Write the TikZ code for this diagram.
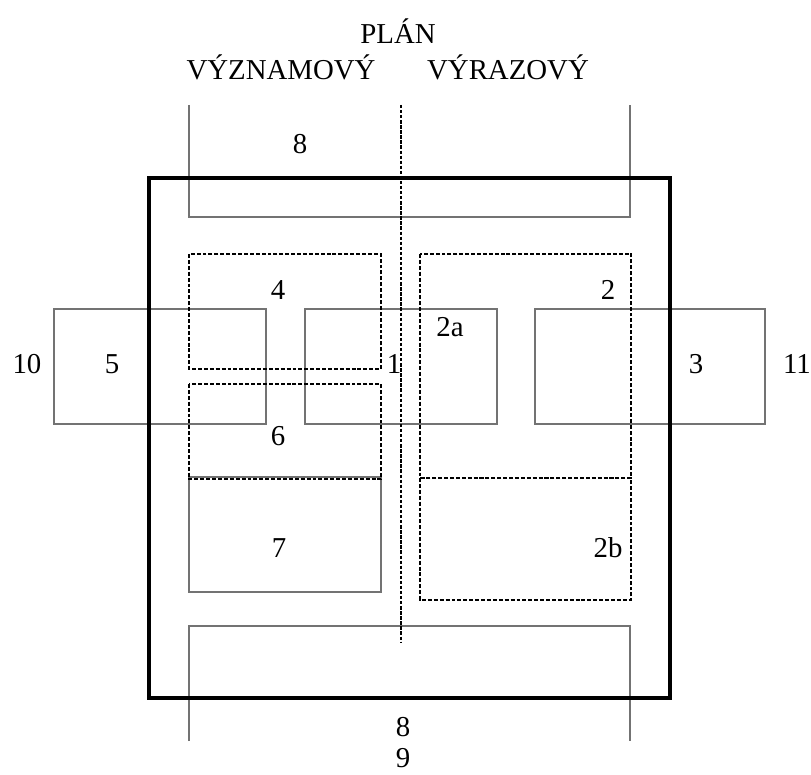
\documentclass[tikz,border=0pt]{standalone}
\usepackage{fontspec}
\setmainfont{Liberation Serif}
\usetikzlibrary{positioning}
\tikzstyle{frame} = [line width=3.2pt, black]
\tikzstyle{thinbox} = [line width=0.75pt, black!55]
\tikzstyle{dashbox} = [line width=1.3pt, dash pattern=on 2.8pt off 1.4pt]
\tikzstyle{midline} = [line width=1.3pt, dash pattern=on 2.4pt off 1.2pt]
\tikzstyle{lbl} = [font=\fontsize{20.5}{24}\selectfont, inner sep=0pt, anchor=base]
\begin{document}
\begin{tikzpicture}[x=0.025cm, y=-0.025cm]
\useasboundingbox (0,0) rectangle (811,775);

% brackets 8 / 9
\draw [thinbox] (189,105) -- (189,217) -- (630,217) -- (630,105);
\draw [thinbox] (189,741) -- (189,626) -- (630,626) -- (630,741);

% side boxes
\draw [thinbox] (54,309) rectangle (266,424);
\draw [thinbox] (305,309) rectangle (497,424);
\draw [thinbox] (535,309) rectangle (765,424);
\draw [thinbox] (189,477) rectangle (381,592);

% dashed areas
\draw [dashbox] (189,254) rectangle (381,369);
\draw [dashbox] (189,384) rectangle (381,479);
\draw [dashbox] (420,254) rectangle (631,478);
\draw [dashbox] (420,478) rectangle (631,600);

% frame and axis
\draw [frame] (149,178) rectangle (670,698);
\draw [midline] (401,105) -- (401,642);

% labels
\node (plan) [lbl] at (398,44) {PLÁN};
\node (vyzn) [lbl] at (281,80) {VÝZNAMOVÝ};
\node (vyraz) [lbl] at (508,80) {VÝRAZOVÝ};
\node (n8top) [lbl] at (300,154) {8};
\node (n4) [lbl] at (278,300) {4};
\node (n2) [lbl] at (608,300) {2};
\node (n2a) [lbl] at (450,336) {2a};
\node (n10) [lbl] at (27,373) {10};
\node (n5) [lbl] at (112,373) {5};
\node (n1) [lbl] at (394,373) {1};
\node (n3) [lbl] at (696,373) {3};
\node (n11) [lbl] at (797,373) {11};
\node (n6) [lbl] at (278,445) {6};
\node (n7) [lbl] at (279,557) {7};
\node (n2b) [lbl] at (608,557) {2b};
\node (n8bot) [lbl] at (403,736) {8};
\node (n9) [lbl] at (403,767) {9};
\end{tikzpicture}
\end{document}
